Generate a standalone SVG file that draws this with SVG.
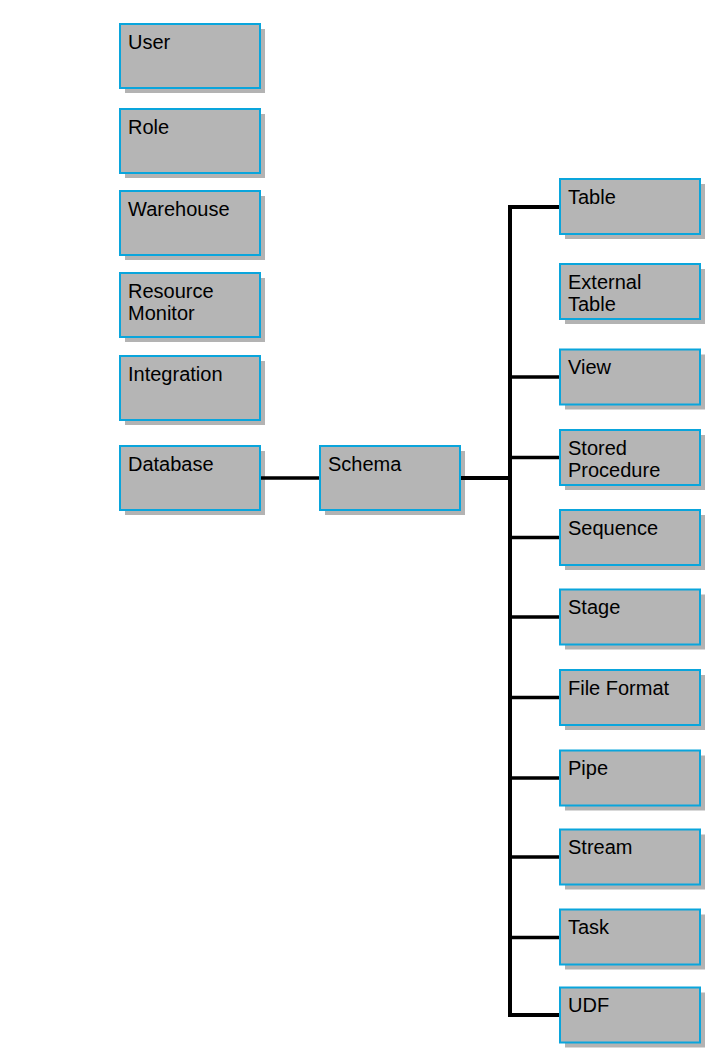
<svg xmlns="http://www.w3.org/2000/svg" width="727" height="1062" viewBox="0 0 727 1062">
<style>
.sh{fill:#b3b3b3}
.bx{fill:#b5b5b5;stroke:#0aa5dc;stroke-width:2}
.t{font-family:"Liberation Sans",Arial,sans-serif;font-size:20px;fill:#000}
.c{stroke:#000;fill:none}
</style>
<rect width="727" height="1062" fill="#fff"/>
<g id="user"><rect class="sh" x="125" y="29" width="140" height="64"/><rect class="bx" x="120" y="24" width="140" height="64"/><text class="t" x="128" y="48.5">User</text></g>
<g id="role"><rect class="sh" x="125" y="114" width="140" height="64"/><rect class="bx" x="120" y="109" width="140" height="64"/><text class="t" x="128" y="133.5">Role</text></g>
<g id="warehouse"><rect class="sh" x="125" y="196" width="140" height="64"/><rect class="bx" x="120" y="191" width="140" height="64"/><text class="t" x="128" y="215.5">Warehouse</text></g>
<g id="resource-monitor"><rect class="sh" x="125" y="278" width="140" height="64"/><rect class="bx" x="120" y="273" width="140" height="64"/><text class="t" x="128" y="298">Resource</text><text class="t" x="128" y="320">Monitor</text></g>
<g id="integration"><rect class="sh" x="125" y="361" width="140" height="64"/><rect class="bx" x="120" y="356" width="140" height="64"/><text class="t" x="128" y="380.5">Integration</text></g>
<g id="database"><rect class="sh" x="125" y="451" width="140" height="64"/><rect class="bx" x="120" y="446" width="140" height="64"/><text class="t" x="128" y="470.5">Database</text></g>
<g id="schema"><rect class="sh" x="325" y="451" width="140" height="64"/><rect class="bx" x="320" y="446" width="140" height="64"/><text class="t" x="328" y="470.5">Schema</text></g>
<g id="table"><rect class="sh" x="565" y="184" width="140" height="55"/><rect class="bx" x="560" y="179" width="140" height="55"/><text class="t" x="568" y="203.5">Table</text></g>
<g id="external-table"><rect class="sh" x="565" y="269" width="140" height="55"/><rect class="bx" x="560" y="264" width="140" height="55"/><text class="t" x="568" y="289">External</text><text class="t" x="568" y="310.5">Table</text></g>
<g id="view"><rect class="sh" x="565" y="354.5" width="140" height="55"/><rect class="bx" x="560" y="349.5" width="140" height="55"/><text class="t" x="568" y="374">View</text></g>
<g id="stored-procedure"><rect class="sh" x="565" y="435" width="140" height="55"/><rect class="bx" x="560" y="430" width="140" height="55"/><text class="t" x="568" y="455">Stored</text><text class="t" x="568" y="477">Procedure</text></g>
<g id="sequence"><rect class="sh" x="565" y="515" width="140" height="55"/><rect class="bx" x="560" y="510" width="140" height="55"/><text class="t" x="568" y="534.5">Sequence</text></g>
<g id="stage"><rect class="sh" x="565" y="594.5" width="140" height="55"/><rect class="bx" x="560" y="589.5" width="140" height="55"/><text class="t" x="568" y="614">Stage</text></g>
<g id="file-format"><rect class="sh" x="565" y="675" width="140" height="55"/><rect class="bx" x="560" y="670" width="140" height="55"/><text class="t" x="568" y="694.5">File Format</text></g>
<g id="pipe"><rect class="sh" x="565" y="755.5" width="140" height="55"/><rect class="bx" x="560" y="750.5" width="140" height="55"/><text class="t" x="568" y="775">Pipe</text></g>
<g id="stream"><rect class="sh" x="565" y="834.5" width="140" height="55"/><rect class="bx" x="560" y="829.5" width="140" height="55"/><text class="t" x="568" y="854">Stream</text></g>
<g id="task"><rect class="sh" x="565" y="914.5" width="140" height="55"/><rect class="bx" x="560" y="909.5" width="140" height="55"/><text class="t" x="568" y="934">Task</text></g>
<g id="udf"><rect class="sh" x="565" y="992.5" width="140" height="55"/><rect class="bx" x="560" y="987.5" width="140" height="55"/><text class="t" x="568" y="1012">UDF</text></g>
<g id="connectors">
<line class="c" x1="261" y1="478" x2="319" y2="478" stroke-width="3.5"/>
<line class="c" x1="461" y1="478" x2="510" y2="478" stroke-width="4"/>
<polyline class="c" points="559,207 510,207 510,1015 559,1015" stroke-width="4"/>
<line class="c" x1="510" y1="377" x2="559" y2="377" stroke-width="3.5"/>
<line class="c" x1="510" y1="457.5" x2="559" y2="457.5" stroke-width="3.5"/>
<line class="c" x1="510" y1="537.5" x2="559" y2="537.5" stroke-width="3.5"/>
<line class="c" x1="510" y1="617" x2="559" y2="617" stroke-width="3.5"/>
<line class="c" x1="510" y1="697.5" x2="559" y2="697.5" stroke-width="3.5"/>
<line class="c" x1="510" y1="778" x2="559" y2="778" stroke-width="3.5"/>
<line class="c" x1="510" y1="857" x2="559" y2="857" stroke-width="3.5"/>
<line class="c" x1="510" y1="937.5" x2="559" y2="937.5" stroke-width="3.5"/>
</g>
</svg>
